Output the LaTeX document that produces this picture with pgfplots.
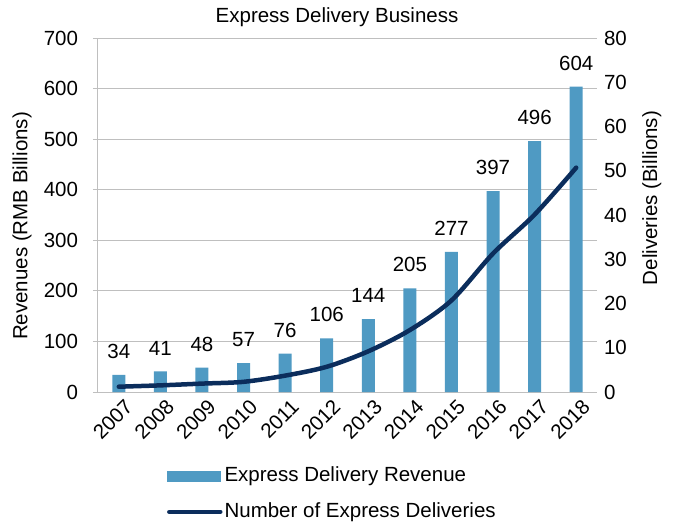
\documentclass[border=0pt]{standalone}
\usepackage{fontspec}
\setmainfont{Liberation Sans}
\usepackage{pgfplots}
\pgfplotsset{compat=1.18}
\definecolor{barblue}{HTML}{4F9AC3}
\definecolor{navy}{HTML}{0B2D5C}
\definecolor{gridgray}{HTML}{BFBFBF}
\pgfplotsset{/pgf/number format/assume math mode=true}
\newcommand{\chartfont}{\fontsize{20.5}{24}\selectfont}
\begin{document}
\chartfont
\begin{tikzpicture}
\useasboundingbox (-98pt,-131pt) rectangle (576pt,392pt);
\begin{axis}[
  at={(0pt,0pt)}, anchor=south west,
  scale only axis, width=499pt, height=354pt,
  xmin=-0.5, xmax=11.5, ymin=0, ymax=700,
  ytick={0,100,...,700},
  xtick={0,...,11},
  xticklabels={2007,2008,2009,2010,2011,2012,2013,2014,2015,2016,2017,2018},
  xticklabel style={rotate=45, anchor=north east, inner sep=1pt, xshift=4pt, yshift=-3pt},
  axis x line*=bottom, axis y line*=left,
  axis line style={-, draw=gridgray, line width=1pt},
  ymajorgrids, grid style={draw=gridgray, line width=0.9pt},
  xtick style={draw=none},
  ytick style={draw=gridgray, line width=0.9pt},
  tick align=outside, major tick length=5pt,
  ybar, bar width=13pt,
  nodes near coords,
  nodes near coords style={font=\chartfont, anchor=south, inner sep=0pt, yshift=16pt, text=black},
  ylabel={Revenues (RMB Billions)},
  ylabel style={at={(axis description cs:-0.152,0.469)}, anchor=center},
  yticklabel style={xshift=-8pt},
  title={Express Delivery Business},
  title style={font=\chartfont, at={(axis description cs:0.479,1)}, anchor=base, inner sep=0pt, yshift=10pt},
  tick label style={font=\chartfont},
]
\addplot[fill=barblue, draw=none] coordinates {
 (0,34) (1,41) (2,48) (3,57) (4,76) (5,106) (6,144) (7,205) (8,277) (9,397) (10,496) (11,604)};
\end{axis}
\begin{axis}[
  at={(0pt,0pt)}, anchor=south west,
  scale only axis, width=499pt, height=354pt,
  xmin=-0.5, xmax=11.5, ymin=0, ymax=80,
  ytick={0,10,...,80},
  axis x line=none, axis y line*=right,
  axis line style={draw=none},
  ytick style={draw=none},
  ylabel={Deliveries (Billions)},
  ylabel style={at={(axis description cs:1.110,0.548)}, anchor=center},
  tick label style={font=\chartfont},
  legend style={at={(0.132,-0.2)}, anchor=north west, draw=none, fill=none,
    cells={anchor=west}, row sep=14pt, font=\chartfont},
]
\addlegendimage{legend image code/.code={\fill[barblue] (0pt,-5pt) rectangle (53pt,5pt);}}
\addlegendentry{Express Delivery Revenue}
\addlegendimage{legend image code/.code={\draw[navy, line width=4.5pt, line cap=round] (2pt,0pt) -- (53pt,0pt);}}
\addlegendentry{Number of Express Deliveries}
\addplot[navy, line width=4.5pt, smooth, line cap=round, forget plot] coordinates {
 (0,1.2) (1,1.5) (2,1.9) (3,2.3) (4,3.7) (5,5.7) (6,9.2) (7,14.0) (8,20.7) (9,31.3) (10,40.1) (11,50.7)};
\end{axis}
\end{tikzpicture}
\end{document}
